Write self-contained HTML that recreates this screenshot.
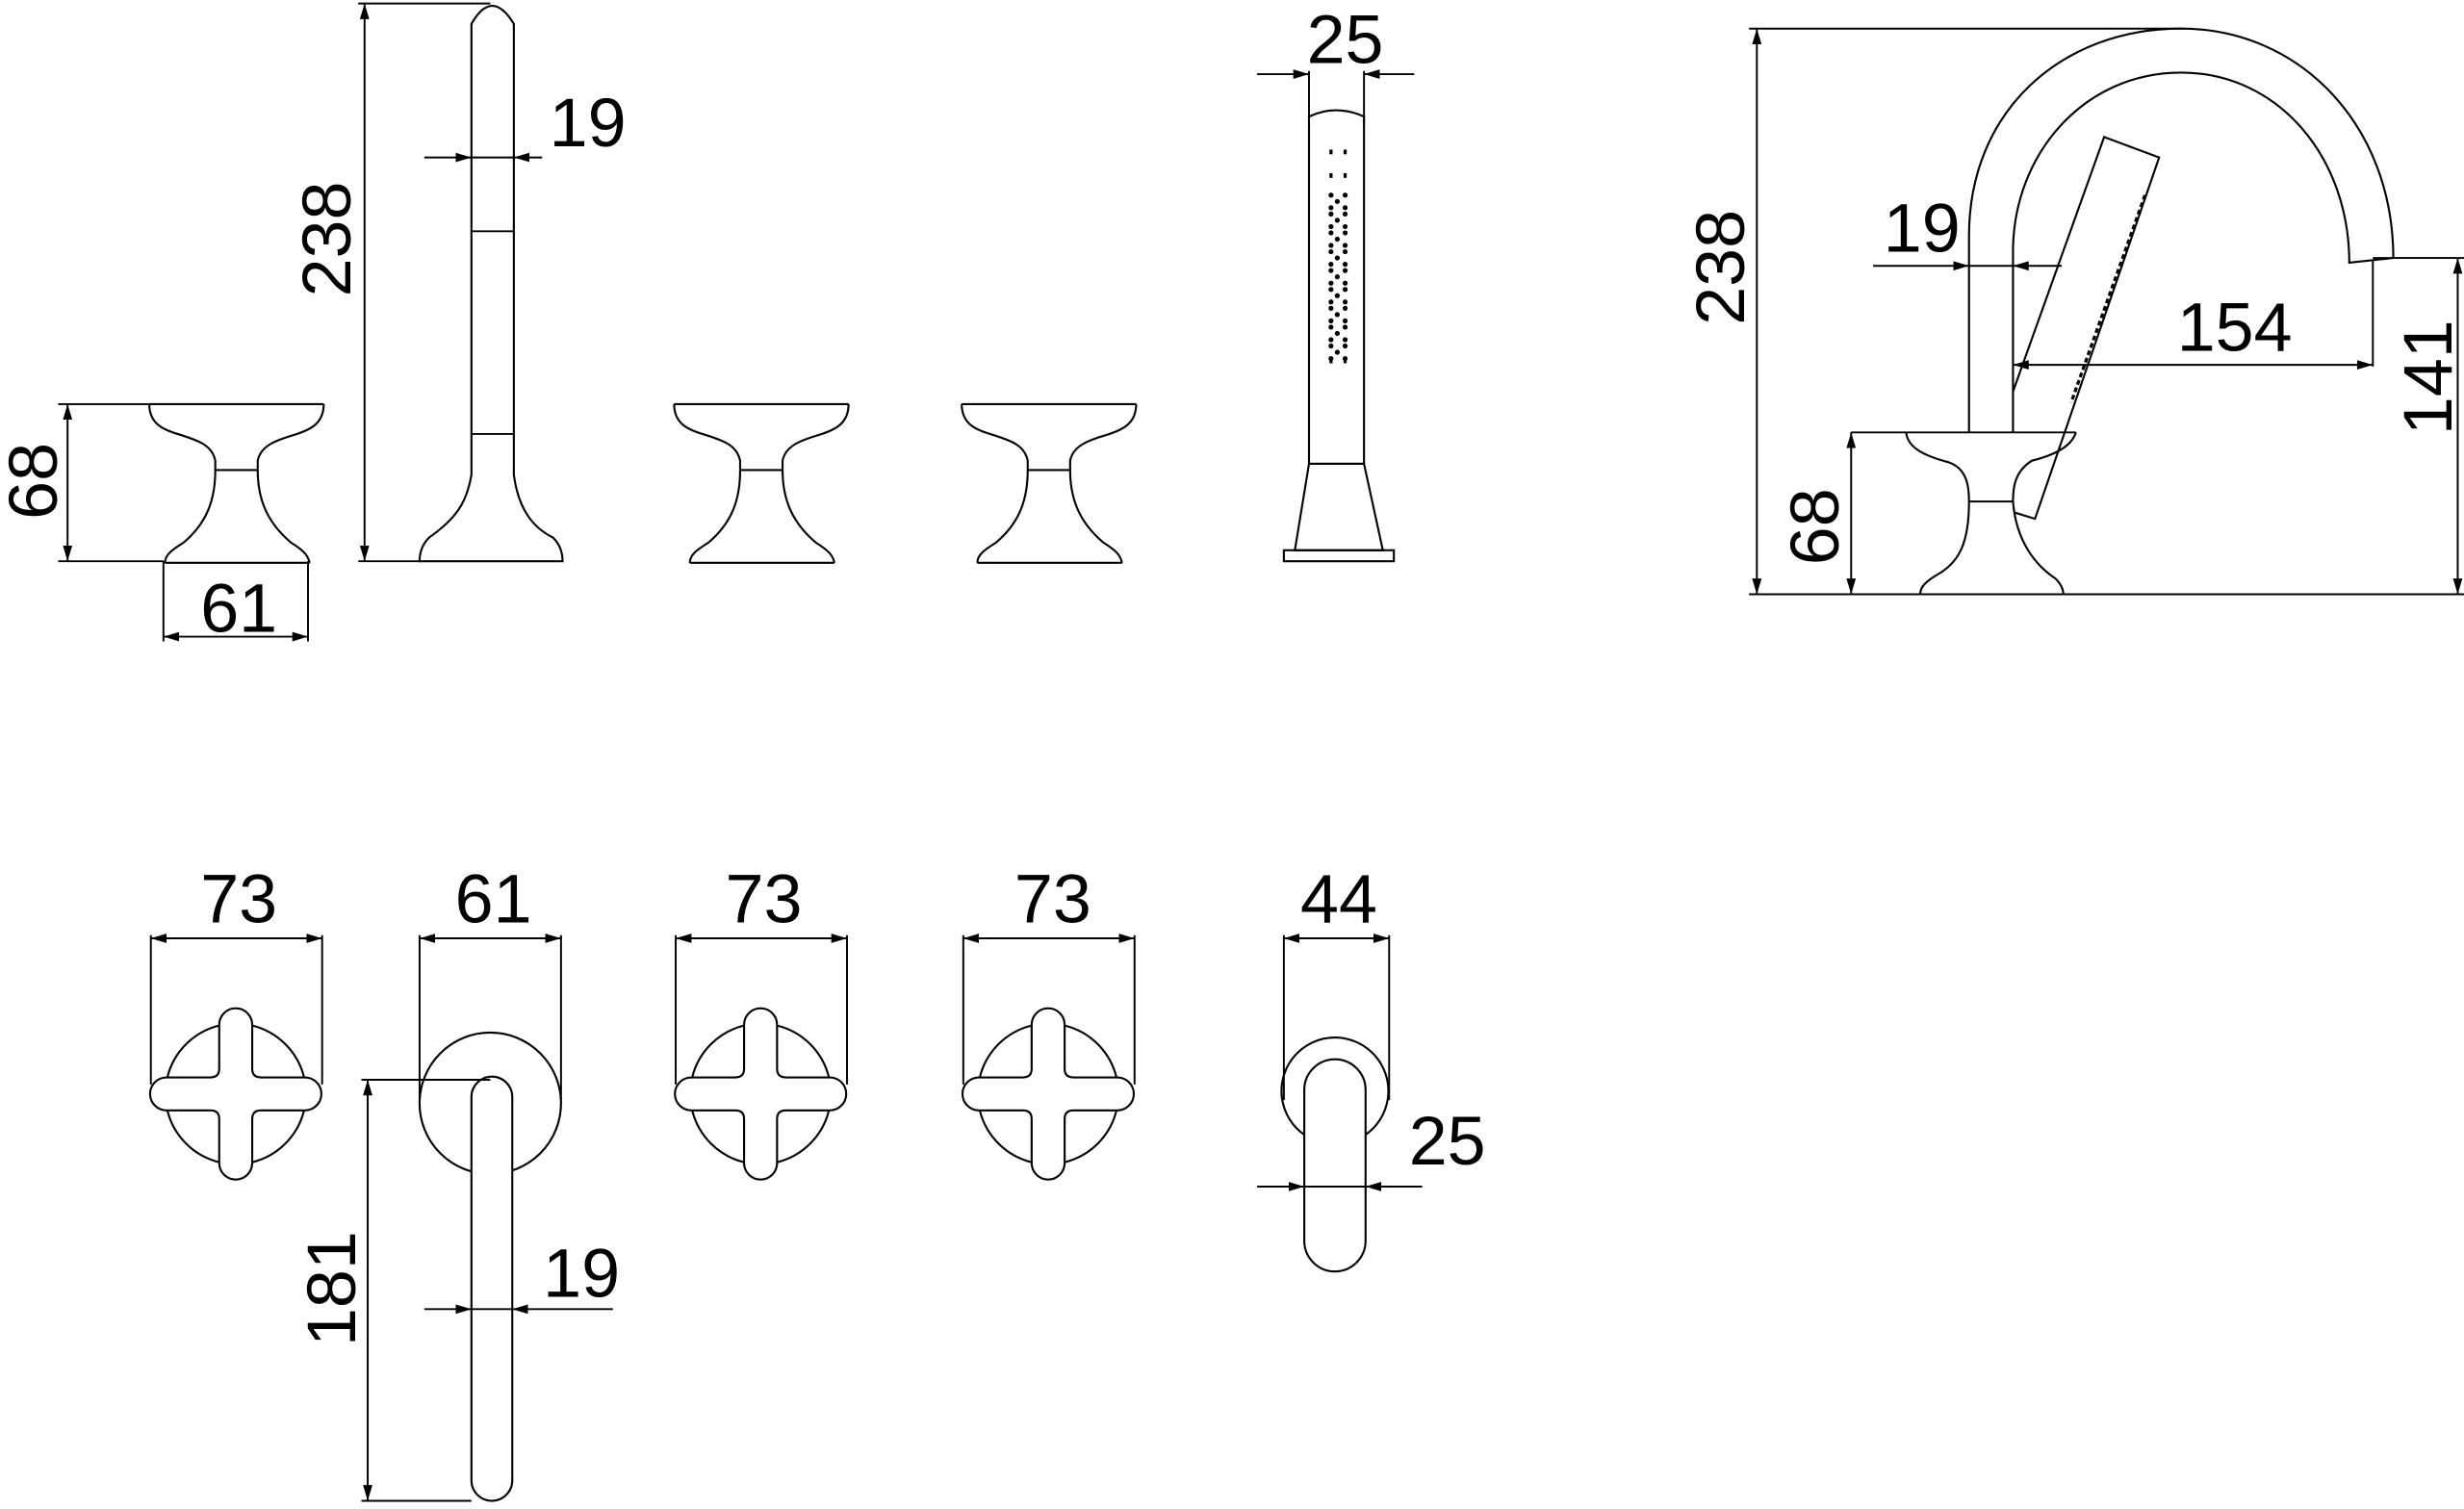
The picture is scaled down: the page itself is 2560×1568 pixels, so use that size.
<!DOCTYPE html>
<html><head><meta charset="utf-8"><style>
html,body{margin:0;padding:0;background:#fff;}
svg{display:block;}
text{font-family:"Liberation Sans",sans-serif;font-size:44px;fill:#000;}
</style></head><body>
<svg width="2560" height="1568" viewBox="0 0 1568 960" xmlns="http://www.w3.org/2000/svg">
<defs>
<marker id="a" viewBox="0 0 10 6" refX="10" refY="3" markerWidth="10" markerHeight="6" orient="auto-start-reverse" markerUnits="userSpaceOnUse"><path d="M0,0 L10,3 L0,6 Z" fill="#000"/></marker>
<g id="knob" fill="none" stroke="#000" stroke-width="1.3">
<path d="M-56,0 L55,0"/>
<path d="M-56,0 C-56,12 -48,16 -38,19 C-25,23 -16,26 -14,36 L-14,42 C-14,62 -20,76 -34,88 C-42,93 -46,96 -46,101"/>
<path d="M55,0 C55,12 47,16 38,19 C25,23 15,26 13,36 L13,42 C13,62 20,76 34,88 C42,93 45,96 46,101"/>
<path d="M-46,101 L46,101"/>
<line x1="-14" y1="42" x2="13" y2="42"/>
</g>
<g id="cross" fill="none" stroke="#000" stroke-width="1.3">
<path d="M-10.5,-43.5 A45,45 0 0 0 -43.5,-10.5 M10.5,-43.5 A45,45 0 0 1 43.5,-10.5 M-10.5,43.5 A45,45 0 0 1 -43.5,10.5 M10.5,43.5 A45,45 0 0 0 43.5,10.5"/>
<path d="M-10.5,-44 A10.5,10.5 0 0 1 10.5,-44 L10.5,-16 Q10.5,-10.5 16,-10.5 L44,-10.5 A10.5,10.5 0 0 1 44,10.5 L16,10.5 Q10.5,10.5 10.5,16 L10.5,44 A10.5,10.5 0 0 1 -10.5,44 L-10.5,16 Q-10.5,10.5 -16,10.5 L-44,10.5 A10.5,10.5 0 0 1 -44,-10.5 L-16,-10.5 Q-10.5,-10.5 -10.5,-16 Z"/>
</g>
</defs>
<g stroke="#000" stroke-width="1.2" fill="none">
<!-- knob 1 dims -->
<line x1="37" y1="257" x2="95" y2="257"/><line x1="37" y1="357" x2="104" y2="357"/>
<line x1="43" y1="257" x2="43" y2="357" marker-start="url(#a)" marker-end="url(#a)"/>
<line x1="104" y1="357" x2="104" y2="408"/><line x1="196" y1="357" x2="196" y2="408"/>
<line x1="104" y1="405" x2="196" y2="405" marker-start="url(#a)" marker-end="url(#a)"/>
<!-- spout column -->
<path d="M300,15 Q313,-8 327,15 L327,302 C330,325 340,336 352,342 Q358,348 358,357 L267,357 Q267,348 273,342 C290,330 297,320 300,302 Z" stroke-width="1.3"/>
<line x1="300" y1="147" x2="327" y2="147"/><line x1="300" y1="276" x2="327" y2="276"/>
<line x1="228" y1="2" x2="312" y2="2"/><line x1="228" y1="357" x2="268" y2="357"/>
<line x1="232" y1="2" x2="232" y2="357" marker-start="url(#a)" marker-end="url(#a)"/>
<line x1="270" y1="100" x2="300" y2="100" marker-end="url(#a)"/><line x1="345" y1="100" x2="327" y2="100" marker-end="url(#a)"/>
<line x1="300" y1="100" x2="327" y2="100"/>
<!-- hand shower -->
<line x1="833" y1="45" x2="833" y2="80"/><line x1="868" y1="45" x2="868" y2="80"/>
<line x1="800" y1="47" x2="833" y2="47" marker-end="url(#a)"/><line x1="900" y1="47" x2="868" y2="47" marker-end="url(#a)"/>
<path d="M833,74 Q850,66 868,74 L868,295 L833,295 Z" stroke-width="1.3"/>
<path d="M833,295 L868,295 L880,350 L824,350 Z" stroke-width="1.3"/>
<rect x="817" y="350" width="70" height="7" stroke-width="1.3"/>
<!-- right side view -->
<line x1="1113" y1="18" x2="1390" y2="18"/><line x1="1113" y1="378" x2="1568" y2="378"/>
<line x1="1118" y1="18" x2="1118" y2="378" marker-start="url(#a)" marker-end="url(#a)"/>
<path d="M1253,275 L1253,150 C1253,70 1312,18 1388,18 C1464,18 1523,80 1523,164 L1495,167 C1495,100 1450,46 1388,46 C1326,46 1281,98 1281,160 L1281,275" stroke-width="1.3"/>
<path d="M1281,249 L1339,87 L1374,100 L1295,330 L1282,326" stroke-width="1.3"/>
<line x1="1365" y1="124" x2="1318" y2="256" stroke-width="2" stroke-dasharray="3,2"/>
<line x1="1178" y1="275" x2="1321" y2="275"/>
<path d="M1213,275 C1214,285 1225,290 1240,294 C1252,298 1253,310 1253,319 C1253,345 1247,358 1232,366 C1224,371 1222,374 1222,378" stroke-width="1.3"/>
<path d="M1321,275 C1318,285 1305,290 1293,293 C1282,300 1281,310 1281,319 C1283,345 1296,360 1308,368 C1312,372 1313,375 1313,378" stroke-width="1.3"/>
<line x1="1253" y1="319" x2="1281" y2="319"/>
<line x1="1178" y1="275" x2="1178" y2="378" marker-start="url(#a)" marker-end="url(#a)"/>
<line x1="1192" y1="169" x2="1253" y2="169" marker-end="url(#a)"/><line x1="1312" y1="169" x2="1281" y2="169" marker-end="url(#a)"/>
<line x1="1253" y1="169" x2="1281" y2="169"/>
<line x1="1510" y1="164" x2="1568" y2="164"/>
<line x1="1564" y1="164" x2="1564" y2="378" marker-start="url(#a)" marker-end="url(#a)"/>
<line x1="1510" y1="166" x2="1510" y2="233"/>
<line x1="1281" y1="232" x2="1510" y2="232" marker-start="url(#a)" marker-end="url(#a)"/>
<!-- bottom row dims -->
<line x1="96" y1="595" x2="96" y2="690"/><line x1="205" y1="595" x2="205" y2="690"/>
<line x1="96" y1="597" x2="205" y2="597" marker-start="url(#a)" marker-end="url(#a)"/>
<line x1="430" y1="595" x2="430" y2="690"/><line x1="539" y1="595" x2="539" y2="690"/>
<line x1="430" y1="597" x2="539" y2="597" marker-start="url(#a)" marker-end="url(#a)"/>
<line x1="613" y1="595" x2="613" y2="690"/><line x1="722" y1="595" x2="722" y2="690"/>
<line x1="613" y1="597" x2="722" y2="597" marker-start="url(#a)" marker-end="url(#a)"/>
<line x1="267" y1="595" x2="267" y2="700"/><line x1="357" y1="595" x2="357" y2="700"/>
<line x1="267" y1="597" x2="357" y2="597" marker-start="url(#a)" marker-end="url(#a)"/>
<line x1="817" y1="595" x2="817" y2="700"/><line x1="884" y1="595" x2="884" y2="700"/>
<line x1="817" y1="597" x2="884" y2="597" marker-start="url(#a)" marker-end="url(#a)"/>
<!-- lever 61 -->
<circle cx="312" cy="702" r="45" stroke-width="1.3"/>
<rect x="300" y="685" width="26" height="270" rx="13" fill="#fff" stroke-width="1.3"/>
<line x1="230" y1="687" x2="312" y2="687"/><line x1="230" y1="955" x2="300" y2="955"/>
<line x1="234" y1="687" x2="234" y2="955" marker-start="url(#a)" marker-end="url(#a)"/>
<line x1="270" y1="833" x2="300" y2="833" marker-end="url(#a)"/><line x1="390" y1="833" x2="326" y2="833" marker-end="url(#a)"/>
<line x1="300" y1="833" x2="326" y2="833"/>
<!-- lever 44 -->
<path d="M830,722 A34,34 0 1 1 869,722" stroke-width="1.3"/>
<rect x="830" y="674" width="39" height="135" rx="19.5" fill="#fff" stroke-width="1.3"/>
<line x1="800" y1="755" x2="830" y2="755" marker-end="url(#a)"/><line x1="905" y1="755" x2="869" y2="755" marker-end="url(#a)"/>
<line x1="830" y1="755" x2="869" y2="755"/>
</g>
<!-- dotted spray -->
<g fill="#000">
<rect x="846" y="95" width="2" height="3"/><rect x="855" y="95" width="2" height="3"/>
<rect x="846" y="110" width="2" height="3"/><rect x="855" y="110" width="2" height="3"/>
<g id="dots"><circle cx="847" cy="124" r="1.6"/><circle cx="851" cy="128" r="1.6"/><circle cx="856" cy="124" r="1.6"/><circle cx="847" cy="132" r="1.6"/><circle cx="856" cy="132" r="1.6"/></g>
<use href="#dots" y="12"/><use href="#dots" y="24"/><use href="#dots" y="36"/><use href="#dots" y="48"/><use href="#dots" y="60"/><use href="#dots" y="72"/><use href="#dots" y="84"/><use href="#dots" y="96"/>
<rect x="846" y="228" width="2" height="3"/><rect x="855" y="228" width="2" height="3"/>
</g>
<use href="#knob" x="151" y="257"/>
<use href="#knob" x="485" y="257"/>
<use href="#knob" x="668" y="257"/>
<use href="#cross" x="150" y="696"/>
<use href="#cross" x="484" y="696"/>
<use href="#cross" x="667" y="696"/>
<text x="152" y="402" text-anchor="middle">61</text>
<text transform="translate(36,306) rotate(-90)" text-anchor="middle">68</text>
<text transform="translate(223,152) rotate(-90)" text-anchor="middle">238</text>
<text x="374" y="93" text-anchor="middle">19</text>
<text x="856" y="40" text-anchor="middle">25</text>
<text transform="translate(1110,170) rotate(-90)" text-anchor="middle">238</text>
<text x="1223" y="160" text-anchor="middle">19</text>
<text x="1422" y="223" text-anchor="middle">154</text>
<text transform="translate(1560,240) rotate(-90)" text-anchor="middle">141</text>
<text transform="translate(1170,335) rotate(-90)" text-anchor="middle">68</text>
<text x="152" y="587" text-anchor="middle">73</text>
<text x="314" y="587" text-anchor="middle">61</text>
<text x="486" y="587" text-anchor="middle">73</text>
<text x="670" y="587" text-anchor="middle">73</text>
<text x="852" y="587" text-anchor="middle">44</text>
<text x="921" y="741" text-anchor="middle">25</text>
<text transform="translate(226,820) rotate(-90)" text-anchor="middle">181</text>
<text x="370" y="825" text-anchor="middle">19</text>
</svg>
</body></html>
